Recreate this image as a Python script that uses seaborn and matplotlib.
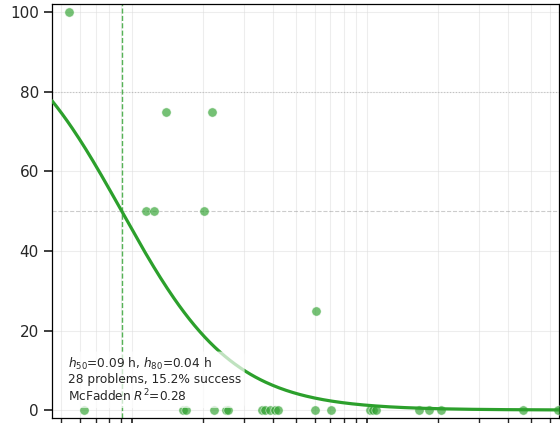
import matplotlib

matplotlib.use("Agg")

import matplotlib.pyplot as plt
import numpy as np
import seaborn as sns

sns.set_theme(style="ticks")

# per-problem solve time (hours) and success rate (%)
solve_hours = [
    0.054, 0.140, 0.220, 0.1146, 0.124, 0.203, 0.606,
    0.0625, 0.165, 0.170, 0.223, 0.251, 0.256, 0.357, 0.368, 0.387,
    0.406, 0.418, 0.601, 0.703, 1.03, 1.06, 1.09, 1.66, 1.84, 2.06,
    4.61, 6.50,
]
success_pct = [
    100, 75, 75, 50, 50, 50, 25,
    0, 0, 0, 0, 0, 0, 0, 0, 0,
    0, 0, 0, 0, 0, 0, 0, 0, 0, 0,
    0, 0,
]

# fitted logistic (in log time) summary
h50 = 0.0905
h80 = 0.0425
mcfadden_r2 = 0.28

x_limits = (0.0457, 6.57)

fig = plt.figure(figsize=(5.6, 4.23), dpi=100)
ax = fig.add_axes([52 / 560, 5 / 423, 507 / 560, 413.5 / 423])

ax.set_xscale("log")
ax.grid(True, which="both", color="#dddddd", alpha=0.5, linewidth=0.8)

ax.axhline(50, color="gray", linestyle="--", linewidth=0.8, alpha=0.4)
ax.axhline(80, color="gray", linestyle=":", linewidth=0.8, alpha=0.4)
ax.axvline(h50, color="#2ca02c", linestyle="--", linewidth=1.0, alpha=0.8)

sns.scatterplot(
    x=solve_hours,
    y=success_pct,
    color="#2ca02c",
    alpha=0.65,
    s=45,
    edgecolor="white",
    linewidth=0.5,
    ax=ax,
    zorder=3,
)

# logistic curve through h50 / h80
slope = np.log(4.0) / np.log(h80 / h50)
grid = np.logspace(np.log10(x_limits[0]), np.log10(x_limits[1]), 300)
curve = 100.0 / (1.0 + np.exp(-slope * np.log(grid / h50)))
sns.lineplot(x=grid, y=curve, color="#2ca02c", linewidth=2.3, ax=ax, zorder=4)

n = len(success_pct)
mean_success = np.mean(success_pct)
label = (
    rf"$h_{{50}}$={h50:.2f} h, $h_{{80}}$={h80:.2f} h"
    + f"\n{n} problems, {mean_success:.1f}% success"
    + f"\nMcFadden $R^2$={mcfadden_r2:.2f}"
)
ax.text(
    0.031,
    0.033,
    label,
    transform=ax.transAxes,
    fontsize=8.7,
    linespacing=1.1,
    va="bottom",
    ha="left",
    zorder=5,
    bbox=dict(boxstyle="round,pad=0.3", facecolor="white", alpha=0.7, edgecolor="none"),
)

ax.set_xlim(*x_limits)
ax.set_ylim(-2, 102)
ax.set_yticks([0, 20, 40, 60, 80, 100])
ax.tick_params(axis="y", labelsize=11)
ax.tick_params(axis="x", which="both", labelbottom=False)
for side in ["top", "right", "left", "bottom"]:
    ax.spines[side].set_visible(True)
    ax.spines[side].set_color("black")
    ax.spines[side].set_linewidth(0.9)

fig.savefig("out.png", dpi=100)
plt.close(fig)
